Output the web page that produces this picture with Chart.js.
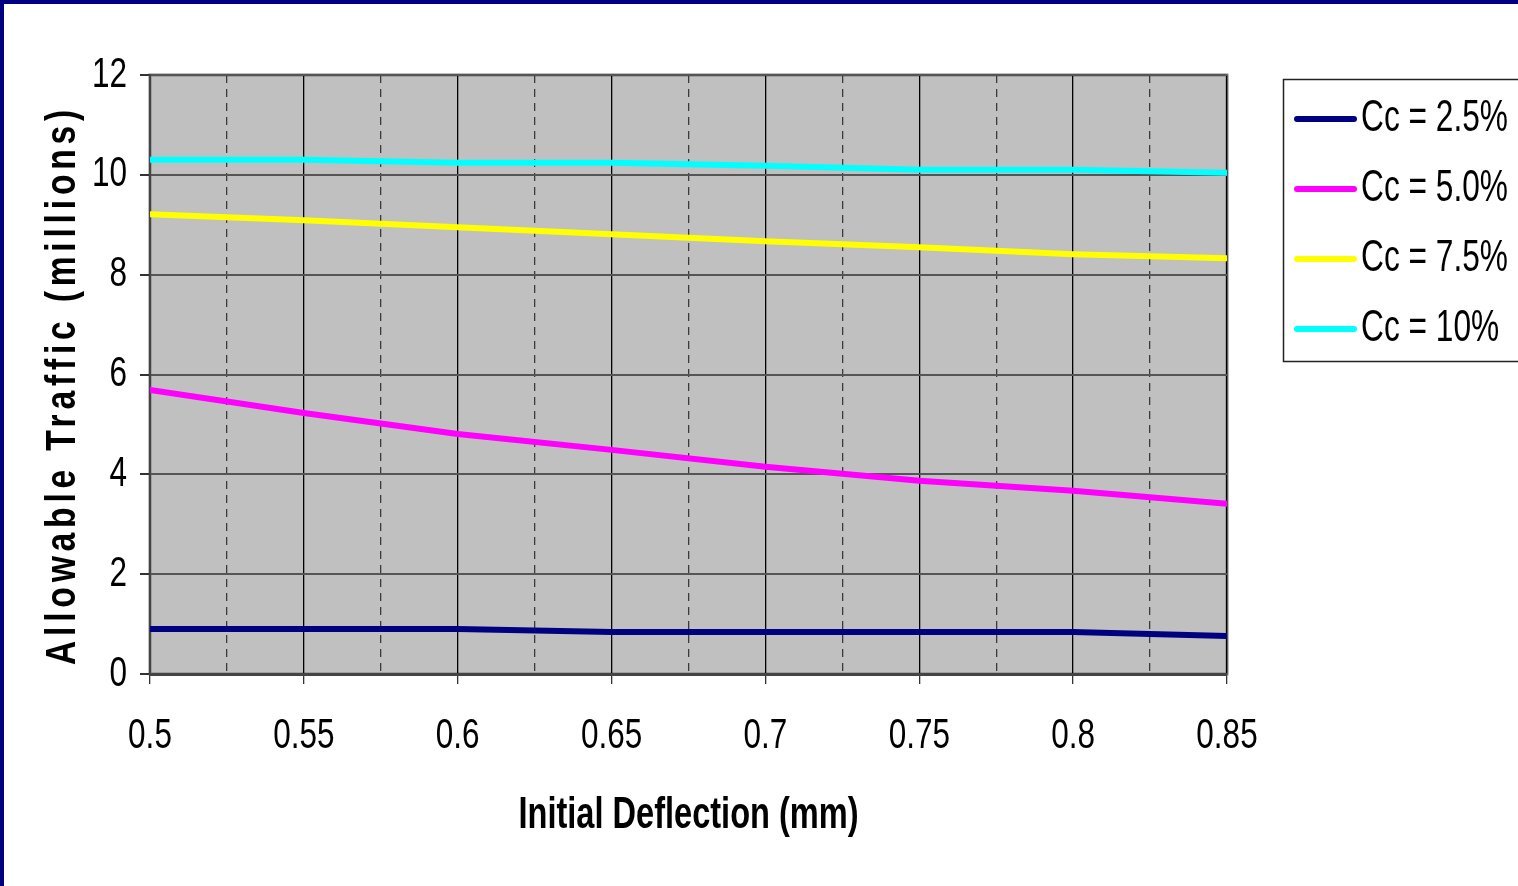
<!DOCTYPE html>
<html>
<head>
<meta charset="utf-8">
<script src="https://cdn.jsdelivr.net/npm/chart.js@4/dist/chart.umd.min.js"></script>
<style>
  html, body { margin: 0; padding: 0; background: #fff; }
  #wrap { position: relative; width: 1518px; height: 886px; overflow: hidden; }
  #chart { position: absolute; left: 0; top: 0; }
  #frame { position: absolute; left: 0; top: 0; width: 1518px; height: 886px; box-sizing: border-box;
    border-left: 4px solid #000080; border-top: 4px solid #000080; pointer-events: none; }
</style>
</head>
<body>
<div id="wrap">
  <canvas id="chart" width="1518" height="886"></canvas>
  <div id="frame"></div>
</div>
<script>
const deflection = [0.5, 0.55, 0.6, 0.65, 0.7, 0.75, 0.8, 0.85];
const cc25 = [0.9, 0.9, 0.9, 0.84, 0.84, 0.84, 0.84, 0.76];
const cc50 = [5.69, 5.23, 4.81, 4.49, 4.15, 3.87, 3.67, 3.41];
const cc75 = [9.21, 9.09, 8.95, 8.81, 8.67, 8.55, 8.41, 8.33];
const cc10 = [10.30, 10.30, 10.24, 10.24, 10.18, 10.10, 10.10, 10.04];

const seriesNames = ['Cc = 2.5%', 'Cc = 5.0%', 'Cc = 7.5%', 'Cc = 10%'];
const seriesColors = ['#000080', '#ff00ff', '#ffff00', '#00ffff'];
const seriesValues = [cc25, cc50, cc75, cc10];

const xTitle = 'Initial Deflection (mm)';
const yTitle = 'Allowable Traffic (millions)';

const SANS = '"Liberation Sans", Arial, sans-serif';

const isMajor = (v) => Math.round(v * 1000) % 50 === 0;

// text squeezed horizontally to imitate Arial Narrow
function narrowText(ctx, text, x, y, size, opts = {}) {
  const squeeze = opts.squeeze || 0.75;
  ctx.save();
  ctx.font = (opts.bold ? 'bold ' : '') + size + 'px ' + SANS;
  ctx.fillStyle = '#000';
  ctx.textBaseline = opts.baseline || 'middle';
  const w = ctx.measureText(text).width * squeeze;
  let left = x;
  if (opts.align === 'center') left = x - w / 2;
  if (opts.align === 'right') left = x - w;
  ctx.translate(left, y);
  ctx.scale(squeeze, 1);
  ctx.textAlign = 'left';
  ctx.fillText(text, 0, 0);
  ctx.restore();
}

const chartDecor = {
  id: 'chartDecor',
  beforeDraw(chart) {
    const { ctx, chartArea: a } = chart;
    ctx.save();
    ctx.fillStyle = '#c0c0c0';
    ctx.fillRect(a.left, a.top, a.right - a.left, a.bottom - a.top);
    ctx.strokeStyle = '#808080';
    ctx.lineWidth = 3;
    ctx.strokeRect(a.left, a.top, a.right - a.left, a.bottom - a.top);
    ctx.restore();
  },
  afterDraw(chart) {
    const { ctx, chartArea: a, scales } = chart;

    // tick labels
    scales.x.ticks.forEach((t) => {
      if (!isMajor(t.value)) return;
      const px = scales.x.getPixelForValue(t.value);
      narrowText(ctx, String(Number(t.value.toFixed(2))), px, 736, 42, { align: 'center' });
    });
    scales.y.ticks.forEach((t) => {
      const py = scales.y.getPixelForValue(t.value);
      narrowText(ctx, String(t.value), 127, py, 42, { align: 'right' });
    });

    // x title
    narrowText(ctx, xTitle, (a.left + a.right) / 2, 816, 44, { align: 'center', bold: true, squeeze: 0.74 });

    // y title, rotated and letter-spaced
    ctx.save();
    ctx.translate(63, 385);
    ctx.rotate(-Math.PI / 2);
    ctx.font = 'bold 42px ' + SANS;
    ctx.letterSpacing = '6px';
    const w = ctx.measureText(yTitle).width;
    const sq = 560 / w;
    ctx.scale(sq, 1);
    ctx.fillStyle = '#000';
    ctx.textAlign = 'center';
    ctx.textBaseline = 'middle';
    ctx.fillText(yTitle, 0, 0);
    ctx.restore();

    // legend box
    ctx.save();
    ctx.fillStyle = '#fff';
    ctx.fillRect(1283, 79, 260, 283);
    ctx.strokeStyle = '#222';
    ctx.lineWidth = 1.5;
    ctx.strokeRect(1283.5, 79.5, 260, 282);
    chart.data.datasets.forEach((ds, i) => {
      const y = 119 + i * 70;
      ctx.strokeStyle = ds.borderColor;
      ctx.lineWidth = 6;
      ctx.lineCap = 'round';
      ctx.beginPath();
      ctx.moveTo(1297, y);
      ctx.lineTo(1354, y);
      ctx.stroke();
      narrowText(ctx, ds.label, 1361, y + 12, 44, { baseline: 'alphabetic', squeeze: 0.72 });
    });
    ctx.restore();
  },
};

const chart = new Chart(document.getElementById('chart'), {
  type: 'line',
  data: {
    datasets: seriesNames.map((name, i) => ({
      label: name,
      data: deflection.map((x, j) => ({ x, y: seriesValues[i][j] })),
      borderColor: seriesColors[i],
      backgroundColor: seriesColors[i],
      borderWidth: 6,
      borderCapStyle: 'round',
      pointRadius: 0,
      tension: 0,
    })),
  },
  options: {
    responsive: false,
    animation: false,
    layout: { padding: { top: 75, right: 291, left: 0, bottom: 0 } },
    plugins: {
      legend: { display: false },
      tooltip: { enabled: false },
    },
    scales: {
      x: {
        type: 'linear',
        min: 0.5,
        max: 0.85,
        afterFit: (scale) => { scale.height = 212; },
        ticks: {
          stepSize: 0.025,
          autoSkip: false,
          display: false,
        },
        grid: {
          color: (c) => (c.tick && isMajor(c.tick.value) ? '#000' : '#3a3a3a'),
          lineWidth: 1.3,
          tickLength: 10,
          tickColor: (c) => (c.tick && isMajor(c.tick.value) ? '#333' : 'rgba(0,0,0,0)'),
        },
        border: {
          color: '#444',
          width: 3,
          dash: (c) => (c.tick && !isMajor(c.tick.value) ? [8, 6] : []),
        },
      },
      y: {
        min: 0,
        max: 12,
        afterFit: (scale) => { scale.width = 150; },
        ticks: {
          stepSize: 2,
          display: false,
        },
        grid: {
          color: '#555',
          lineWidth: 2,
          tickLength: 10,
          tickColor: '#333',
        },
        border: { color: '#444', width: 2 },
      },
    },
  },
  plugins: [chartDecor],
});
</script>
</body>
</html>
